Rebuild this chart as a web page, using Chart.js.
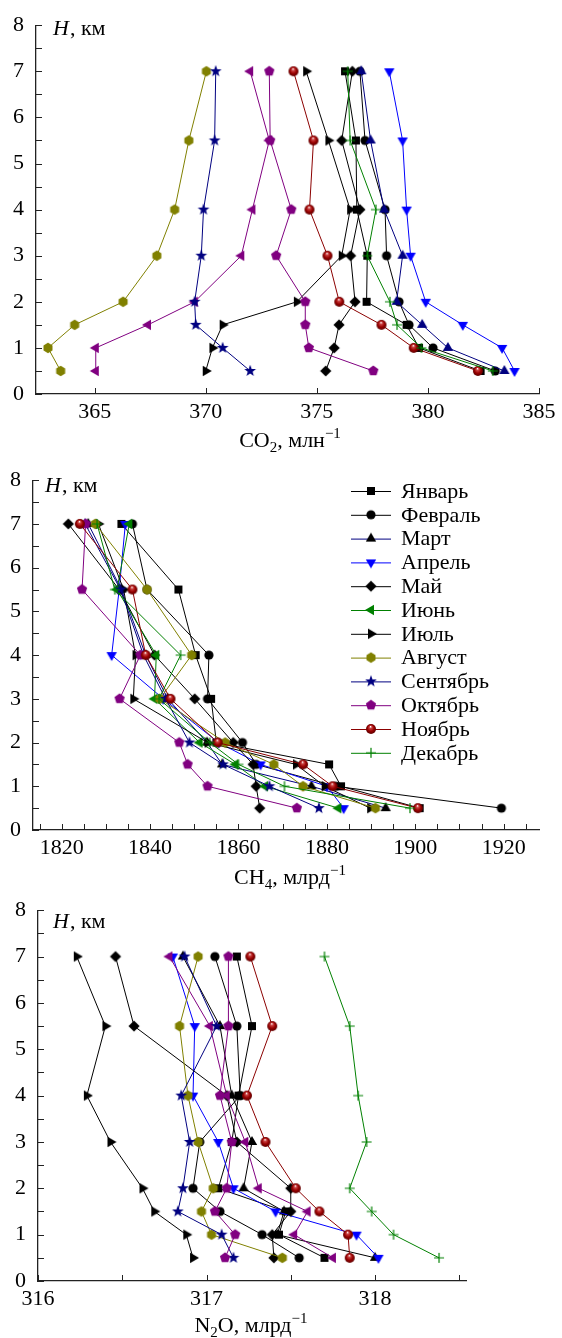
<!DOCTYPE html>
<html>
<head>
<meta charset="utf-8">
<script src="https://cdn.jsdelivr.net/npm/chart.js@4.4.0/dist/chart.umd.min.js"></script>
<style>
  html, body { margin: 0; padding: 0; background: #fff; }
  canvas { position: absolute; left: 0; }
</style>
</head>
<body>
<canvas id="co2" width="562" height="460" style="top:0px"></canvas>
<canvas id="ch4" width="562" height="440" style="top:455px"></canvas>
<canvas id="n2o" width="562" height="453" style="top:885px"></canvas>
<script>
const months = ['Январь', 'Февраль', 'Март', 'Апрель', 'Май', 'Июнь',
  'Июль', 'Август', 'Сентябрь', 'Октябрь', 'Ноябрь', 'Декабрь'];
const heights = [0.5, 1, 1.5, 2, 3, 4, 5.5, 7];

// one row per month, values at the heights above
const co2Values = [
  [382.37, 379.6, 379.04, 377.24, 377.27, 376.8, 376.76, 376.27],
  [383.03, 380.23, 379.15, 378.7, 378.14, 378.07, 377.17, 376.94],
  [383.44, 380.9, 379.74, 378.59, 378.86, 378.03, 377.42, 377.0],
  [383.9, 383.34, 381.57, 379.9, 379.22, 379.04, 378.86, 378.26],
  [375.4, 375.78, 376.0, 376.72, 376.52, 376.94, 376.12, 376.6],
  [365.05, 365.05, 367.4, 369.5, 371.6, 372.1, 372.86, 372.0],
  [370.0, 370.3, 370.76, 374.1, 376.12, 376.5, 375.52, 374.52],
  [363.47, 362.9, 364.1, 366.28, 367.8, 368.6, 369.24, 370.03],
  [372.0, 370.76, 369.55, 369.5, 369.8, 369.9, 370.4, 370.45],
  [377.54, 374.64, 374.48, 374.48, 373.17, 373.85, 372.9, 372.86],
  [382.25, 379.36, 377.91, 376.01, 375.48, 374.67, 374.85, 373.95],
  [382.92, 379.71, 378.61, 378.29, 377.27, 377.66, 376.5, 376.39]
];
const ch4Values = [
  [1901, 1883.2, 1880.5, 1855, 1853.8, 1850.3, 1846.4, 1833.5],
  [1919.5, 1882, 1864, 1860.9, 1853, 1853.3, 1839.3, 1836],
  [1893.3, 1876.5, 1856.3, 1852.9, 1844, 1839, 1833.5, 1826],
  [1883.8, 1880, 1865, 1855.5, 1843, 1831.3, 1833, 1834.4],
  [1864.8, 1864, 1863.3, 1858.8, 1850.1, 1841, 1833, 1821.5],
  [1882.6, 1866, 1859.3, 1851.2, 1841, 1841.4, 1832.5, 1835.3],
  [1889.8, 1879.5, 1873, 1853, 1836.2, 1836.7, 1834, 1828.3],
  [1891, 1874.6, 1868, 1857, 1842.2, 1849.4, 1839.3, 1827.6],
  [1878.2, 1867, 1856.5, 1848.9, 1843.5, 1838.5, 1833.3, 1825.3],
  [1873.2, 1853, 1848.5, 1846.6, 1833.1, 1837.8, 1824.6, 1825.4],
  [1900.6, 1881.3, 1874.6, 1855.3, 1844.6, 1839, 1836, 1824.1],
  [1898.8, 1870.4, 1860, 1853.5, 1842, 1846.9, 1832, 1828]
];
const n2oValues = [
  [317.70, 317.43, 317.47, 317.07, 317.15, 317.19, 317.27, 317.18],
  [317.55, 317.33, 317.08, 316.92, 316.96, 317.2, 317.18, 317.05],
  [318.0, 317.42, 317.46, 317.22, 317.27, 317.15, 317.08, 316.86],
  [318.02, 317.89, 317.41, 317.16, 317.07, 316.92, 316.93, 316.8],
  [317.4, 317.39, 317.5, 317.5, 317.18, 317.12, 316.57, 316.46],
  [317.75, 317.52, 317.6, 317.31, 317.23, 317.12, 317.02, 316.78],
  [316.92, 316.88, 316.69, 316.62, 316.43, 316.29, 316.40, 316.23],
  [317.45, 317.03, 316.97, 317.04, 316.95, 316.89, 316.84, 316.95],
  [317.16, 317.09, 316.83, 316.86, 316.90, 316.85, 317.06, 316.87],
  [317.11, 317.17, 317.05, 317.12, 317.15, 317.08, 317.13, 317.13],
  [317.85, 317.84, 317.67, 317.53, 317.35, 317.24, 317.39, 317.26],
  [318.38, 318.11, 317.98, 317.85, 317.95, 317.90, 317.85, 317.70]
];

const heightTicks = [0, 0.5, 1, 1.5, 2, 2.5, 3, 3.5, 4, 4.5, 5, 5.5, 6, 6.5, 7, 7.5, 8];
const heightLabels = [0, 1, 2, 3, 4, 5, 6, 7, 8];
const co2Ticks = [365, 370, 375, 380, 385];
const ch4Ticks = [1820, 1840, 1860, 1880, 1900, 1920];
const ch4Minor = [1815, 1825, 1830, 1835, 1845, 1850, 1855, 1865, 1870, 1875,
  1885, 1890, 1895, 1905, 1910, 1915, 1925];
const n2oTicks = [316, 317, 318];
const n2oMinor = [316.5, 317.5, 318.5];

const shapes = ['square', 'circle', 'up', 'down', 'diamond', 'left', 'right',
  'hexagon', 'star', 'pentagon', 'sphere', 'plus'];
const baseColors = ['#000000', '#000000', '#000080', '#0000ff', '#000000', '#008000',
  '#000000', '#808000', '#000080', '#800080', '#8b0000', '#008000'];

const serif = '"Liberation Serif", "DejaVu Serif", serif';

function polygon(g, n, r, start) {
  for (let k = 0; k < n; k++) {
    const a = (start + k * 360 / n) * Math.PI / 180;
    const px = Math.cos(a) * r, py = Math.sin(a) * r;
    if (k) g.lineTo(px, py); else g.moveTo(px, py);
  }
  g.closePath();
}

function makeMarker(shape, color) {
  const c = document.createElement('canvas');
  c.width = 16; c.height = 16;
  const g = c.getContext('2d');
  g.translate(8, 8);
  g.fillStyle = color;
  g.strokeStyle = color;
  g.beginPath();
  if (shape === 'square') g.rect(-4, -4, 8, 8);
  else if (shape === 'circle') g.arc(0, 0, 4.6, 0, 2 * Math.PI);
  else if (shape === 'up') polygon(g, 3, 6, -90);
  else if (shape === 'down') polygon(g, 3, 6, 90);
  else if (shape === 'left') polygon(g, 3, 6, 180);
  else if (shape === 'right') polygon(g, 3, 6, 0);
  else if (shape === 'diamond') polygon(g, 4, 5.6, -90);
  else if (shape === 'pentagon') polygon(g, 5, 5.4, -90);
  else if (shape === 'hexagon') polygon(g, 6, 5.2, -90);
  else if (shape === 'star') {
    for (let k = 0; k < 10; k++) {
      const a = (-90 + k * 36) * Math.PI / 180, r = k % 2 ? 2.6 : 6.2;
      if (k) g.lineTo(Math.cos(a) * r, Math.sin(a) * r); else g.moveTo(Math.cos(a) * r, Math.sin(a) * r);
    }
    g.closePath();
  } else if (shape === 'sphere') {
    const gr = g.createRadialGradient(-0.5, -2.4, 0.2, 0, 0, 5.2);
    gr.addColorStop(0, '#ffffff');
    gr.addColorStop(0.22, '#c44');
    gr.addColorStop(0.6, '#900');
    gr.addColorStop(1, '#5a0000');
    g.fillStyle = gr;
    g.arc(0, 0, 5, 0, 2 * Math.PI);
  }
  if (shape === 'plus') {
    g.lineWidth = 1.2;
    g.moveTo(-5, 0); g.lineTo(5, 0);
    g.moveTo(0, -5); g.lineTo(0, 5);
    g.stroke();
  } else {
    g.fill();
  }
  return c;
}

function buildDatasets(values, lineColors, markerColors) {
  return months.map((m, i) => ({
    label: m,
    data: heights.map((h, j) => ({ x: values[i][j], y: h })),
    borderColor: lineColors[i],
    backgroundColor: markerColors[i],
    borderWidth: 1,
    pointStyle: makeMarker(shapes[i], markerColors[i]),
    pointRadius: 5,
    order: months.length - i,
    tension: 0
  }));
}

function xScale(min, max, major, minor, axisHeight) {
  const all = major.concat(minor).sort((a, b) => a - b);
  return {
    type: 'linear', min: min, max: max,
    grid: { drawOnChartArea: false, drawTicks: false },
    border: { display: true, color: '#222', width: 1.3 },
    afterBuildTicks: s => { s.ticks = all.map(v => ({ value: v })); },
    afterFit: s => { s.height = axisHeight; },
    ticks: {
      autoSkip: false, maxRotation: 0, padding: 5, color: '#000',
      font: { family: serif, size: 22 },
      callback: v => major.includes(v) ? String(v) : ''
    }
  };
}

function yScale(axisWidth) {
  return {
    type: 'linear', min: 0, max: 8,
    grid: { drawOnChartArea: false, drawTicks: false },
    border: { display: true, color: '#222', width: 1.3 },
    afterBuildTicks: s => { s.ticks = heightTicks.map(v => ({ value: v })); },
    afterFit: s => { s.width = axisWidth; },
    ticks: {
      autoSkip: false, padding: 12, color: '#000',
      font: { family: serif, size: 22 },
      callback: v => heightLabels.includes(v) ? String(v) : ''
    }
  };
}

function drawParts(ctx, parts, cx, baseline) {
  const fontOf = p => (p[1] ? '15px ' : '22px ') + serif;
  let w = 0;
  parts.forEach(p => { ctx.font = fontOf(p); w += ctx.measureText(p[0]).width; });
  let x = cx - w / 2;
  ctx.textBaseline = 'alphabetic';
  ctx.textAlign = 'left';
  parts.forEach(p => {
    ctx.font = fontOf(p);
    const dy = p[1] === 'sub' ? 5 : p[1] === 'sup' ? -9 : 0;
    ctx.fillText(p[0], x, baseline + dy);
    x += ctx.measureText(p[0]).width;
  });
}

const decor = {
  id: 'decor',
  afterDraw(chart, args, opts) {
    const { ctx, chartArea: a, scales: { x, y } } = chart;
    ctx.save();
    ctx.strokeStyle = '#222';
    ctx.lineWidth = 1;
    ctx.beginPath();
    x.ticks.forEach(t => {
      const p = Math.round(x.getPixelForValue(t.value)) + 0.5;
      ctx.moveTo(p, a.bottom); ctx.lineTo(p, a.bottom - 6);
    });
    y.ticks.forEach(t => {
      const p = Math.round(y.getPixelForValue(t.value)) + 0.5;
      ctx.moveTo(a.left, p); ctx.lineTo(a.left + 6, p);
    });
    ctx.stroke();

    ctx.fillStyle = '#000';
    ctx.textBaseline = 'middle';
    ctx.textAlign = 'left';
    ctx.font = 'italic 22px ' + serif;
    ctx.fillText('H', opts.hx, opts.hy);
    const hw = ctx.measureText('H').width;
    ctx.font = '22px ' + serif;
    ctx.fillText(', км', opts.hx + hw + 1, opts.hy);

    drawParts(ctx, opts.title, opts.tx, opts.ty);

    if (opts.legend) {
      chart.data.datasets.forEach((ds, i) => {
        const ly = opts.legend.y + i * opts.legend.step;
        ctx.strokeStyle = ds.borderColor;
        ctx.lineWidth = 1;
        ctx.beginPath();
        ctx.moveTo(opts.legend.x, ly + 0.5);
        ctx.lineTo(opts.legend.x + 40, ly + 0.5);
        ctx.stroke();
        const img = ds.pointStyle;
        ctx.drawImage(img, opts.legend.x + 20 - img.width / 2, ly - img.height / 2);
        ctx.fillStyle = '#000';
        ctx.font = '22px ' + serif;
        ctx.textBaseline = 'middle';
        ctx.fillText(ds.label, opts.legend.x + 50, ly + 1);
      });
    }
    ctx.restore();
  }
};

function makeChart(id, datasets, xOpts, yWidth, padding, decorOpts) {
  return new Chart(document.getElementById(id), {
    type: 'line',
    data: { datasets: datasets },
    options: {
      responsive: false,
      animation: false,
      events: [],
      layout: { padding: padding },
      plugins: { legend: { display: false }, tooltip: { enabled: false }, decor: decorOpts },
      scales: { x: xOpts, y: yScale(yWidth) }
    },
    plugins: [decor]
  });
}

// CO2 panel
const co2Line = baseColors.slice();
co2Line[5] = '#800080';
makeChart('co2', buildDatasets(co2Values, co2Line, co2Line),
  xScale(362.36, 385, co2Ticks, [], 66),
  36, { top: 21, right: 23, left: 0, bottom: 0 },
  { hx: 53, hy: 29, tx: 290, ty: 447,
    title: [['CO', ''], ['2', 'sub'], [', млн', ''], ['−1', 'sup']] });

// CH4 panel
const ch4Marker = baseColors.slice();
ch4Marker[2] = '#000000';
makeChart('ch4', buildDatasets(ch4Values, baseColors, ch4Marker),
  xScale(1813.5, 1928, ch4Ticks, ch4Minor, 65),
  33, { top: 22, right: 23, left: 0, bottom: 0 },
  { hx: 45, hy: 31, tx: 290, ty: 429,
    title: [['CH', ''], ['4', 'sub'], [', млрд', ''], ['−1', 'sup']],
    legend: { x: 351, y: 36, step: 23.8 } });

// N2O panel
const n2oLine = baseColors.slice();
n2oLine[2] = '#000000';
n2oLine[5] = '#800080';
makeChart('n2o', buildDatasets(n2oValues, n2oLine, n2oLine),
  xScale(316, 318.54, n2oTicks, n2oMinor, 57),
  38, { top: 23, right: 96, left: 0, bottom: 0 },
  { hx: 53, hy: 37, tx: 251, ty: 447,
    title: [['N', ''], ['2', 'sub'], ['O, млрд', ''], ['−1', 'sup']] });
</script>
</body>
</html>
